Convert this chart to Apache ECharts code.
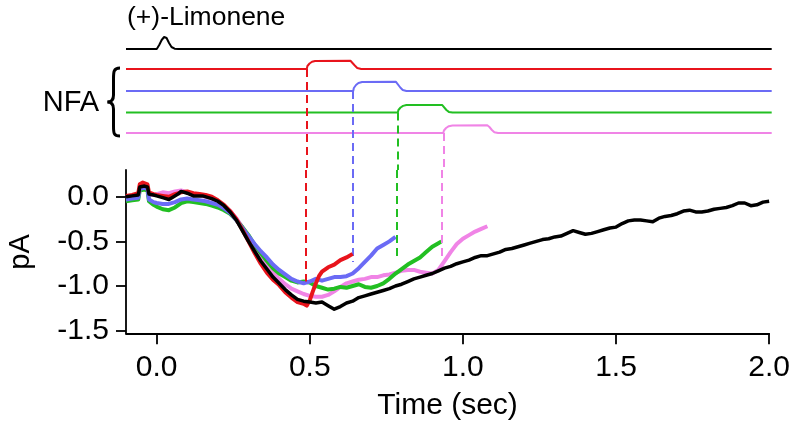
<!DOCTYPE html>
<html><head><meta charset="utf-8">
<script src="https://cdn.jsdelivr.net/npm/echarts@6/dist/echarts.min.js"></script>
<style>html,body{margin:0;padding:0;background:#fff}#c{width:793px;height:426px}</style>
</head><body><div id="c"></div>
<script>
// ---- main current traces (time s, current pA) ----
const blackTrace = [[-0.10,0.00],[-0.08,0.01],[-0.06,0.02],[-0.055,0.11],[-0.04,0.12],[-0.03,0.11],[-0.025,0.03],[-0.01,0.02],[0.00,0.01],[0.02,-0.01],[0.04,-0.03],[0.05,-0.01],[0.07,0.03],[0.08,0.06],[0.10,0.04],[0.12,0.01],[0.15,0.01],[0.18,-0.02],[0.20,-0.05],[0.22,-0.10],[0.24,-0.17],[0.26,-0.26],[0.28,-0.38],[0.30,-0.50],[0.32,-0.61],[0.34,-0.72],[0.36,-0.81],[0.38,-0.90],[0.40,-0.97],[0.42,-1.04],[0.44,-1.10],[0.46,-1.15],[0.48,-1.17],[0.50,-1.18],[0.52,-1.19],[0.54,-1.18],[0.56,-1.22],[0.58,-1.26],[0.60,-1.23],[0.62,-1.19],[0.64,-1.17],[0.66,-1.13],[0.68,-1.11],[0.70,-1.09],[0.72,-1.07],[0.74,-1.05],[0.76,-1.03],[0.78,-1.00],[0.80,-0.98],[0.82,-0.95],[0.84,-0.92],[0.86,-0.90],[0.88,-0.88],[0.90,-0.86],[0.92,-0.83],[0.94,-0.80],[0.96,-0.78],[0.98,-0.75],[1.00,-0.73],[1.02,-0.71],[1.04,-0.68],[1.06,-0.66],[1.08,-0.66],[1.10,-0.64],[1.12,-0.62],[1.14,-0.59],[1.16,-0.58],[1.18,-0.56],[1.20,-0.54],[1.22,-0.52],[1.24,-0.50],[1.26,-0.48],[1.28,-0.47],[1.30,-0.45],[1.32,-0.44],[1.34,-0.41],[1.36,-0.38],[1.38,-0.40],[1.40,-0.42],[1.42,-0.41],[1.44,-0.39],[1.46,-0.37],[1.48,-0.35],[1.50,-0.34],[1.52,-0.30],[1.54,-0.27],[1.56,-0.26],[1.58,-0.26],[1.60,-0.27],[1.62,-0.28],[1.64,-0.24],[1.66,-0.22],[1.68,-0.21],[1.70,-0.19],[1.72,-0.16],[1.74,-0.15],[1.76,-0.17],[1.78,-0.17],[1.80,-0.16],[1.82,-0.14],[1.84,-0.13],[1.86,-0.12],[1.88,-0.10],[1.90,-0.07],[1.92,-0.07],[1.94,-0.10],[1.96,-0.09],[1.98,-0.06],[2.00,-0.05]];
const redTrace = [[-0.10,0.01],[-0.08,0.02],[-0.06,0.04],[-0.055,0.14],[-0.045,0.16],[-0.03,0.14],[-0.025,0.05],[-0.01,0.03],[0.00,0.02],[0.02,0.01],[0.04,0.00],[0.06,0.03],[0.08,0.05],[0.10,0.06],[0.12,0.04],[0.14,0.03],[0.16,0.02],[0.18,0.00],[0.20,-0.04],[0.22,-0.09],[0.24,-0.16],[0.26,-0.25],[0.28,-0.37],[0.30,-0.50],[0.32,-0.63],[0.34,-0.75],[0.36,-0.85],[0.38,-0.93],[0.40,-0.99],[0.42,-1.07],[0.44,-1.13],[0.46,-1.18],[0.48,-1.20],[0.49,-1.22],[0.50,-1.16],[0.51,-1.06],[0.52,-0.97],[0.53,-0.89],[0.54,-0.84],[0.56,-0.79],[0.58,-0.76],[0.60,-0.71],[0.62,-0.68],[0.64,-0.64]];
const blueTrace = [[-0.10,-0.03],[-0.08,-0.02],[-0.06,-0.01],[-0.055,0.09],[-0.04,0.10],[-0.03,0.09],[-0.025,-0.03],[-0.01,-0.06],[0.00,-0.07],[0.02,-0.08],[0.04,-0.08],[0.06,-0.06],[0.08,-0.03],[0.10,-0.02],[0.12,-0.03],[0.14,-0.04],[0.16,-0.05],[0.18,-0.07],[0.20,-0.09],[0.22,-0.13],[0.24,-0.18],[0.26,-0.26],[0.28,-0.35],[0.30,-0.44],[0.32,-0.53],[0.34,-0.61],[0.36,-0.68],[0.38,-0.76],[0.40,-0.82],[0.42,-0.87],[0.44,-0.92],[0.46,-0.95],[0.48,-0.97],[0.50,-0.95],[0.52,-0.92],[0.54,-0.94],[0.56,-0.92],[0.58,-0.90],[0.60,-0.90],[0.62,-0.89],[0.64,-0.86],[0.66,-0.80],[0.68,-0.73],[0.70,-0.66],[0.72,-0.58],[0.74,-0.54],[0.76,-0.50],[0.78,-0.45]];
const greenTrace = [[-0.10,-0.05],[-0.08,-0.04],[-0.06,-0.03],[-0.055,0.07],[-0.04,0.08],[-0.03,0.07],[-0.025,-0.05],[-0.01,-0.09],[0.00,-0.11],[0.02,-0.14],[0.04,-0.15],[0.06,-0.12],[0.08,-0.07],[0.10,-0.05],[0.12,-0.06],[0.14,-0.07],[0.16,-0.08],[0.18,-0.10],[0.20,-0.12],[0.22,-0.15],[0.24,-0.19],[0.26,-0.26],[0.28,-0.34],[0.30,-0.43],[0.32,-0.54],[0.34,-0.63],[0.36,-0.72],[0.38,-0.80],[0.40,-0.86],[0.42,-0.90],[0.44,-0.94],[0.46,-0.96],[0.48,-0.95],[0.50,-0.96],[0.52,-1.00],[0.54,-1.02],[0.56,-1.04],[0.58,-1.03],[0.60,-1.01],[0.62,-1.02],[0.64,-1.00],[0.66,-0.98],[0.68,-1.01],[0.70,-1.02],[0.72,-1.00],[0.74,-0.97],[0.76,-0.92],[0.78,-0.86],[0.80,-0.81],[0.82,-0.76],[0.84,-0.72],[0.86,-0.68],[0.88,-0.62],[0.90,-0.56],[0.92,-0.52],[0.93,-0.50]];
const pinkTrace = [[-0.10,0.00],[-0.08,0.01],[-0.06,0.02],[-0.055,0.11],[-0.04,0.12],[-0.03,0.11],[-0.025,0.02],[-0.01,0.02],[0.00,0.03],[0.02,0.05],[0.04,0.04],[0.06,0.06],[0.08,0.07],[0.10,0.05],[0.12,0.03],[0.14,0.02],[0.16,0.00],[0.18,-0.02],[0.20,-0.05],[0.22,-0.10],[0.24,-0.16],[0.26,-0.24],[0.28,-0.34],[0.30,-0.45],[0.32,-0.56],[0.34,-0.66],[0.36,-0.76],[0.38,-0.85],[0.40,-0.92],[0.42,-0.98],[0.44,-1.03],[0.46,-1.06],[0.48,-1.09],[0.50,-1.11],[0.52,-1.12],[0.54,-1.12],[0.56,-1.10],[0.58,-1.06],[0.60,-1.01],[0.62,-0.97],[0.64,-0.95],[0.66,-0.93],[0.68,-0.92],[0.70,-0.90],[0.72,-0.90],[0.74,-0.88],[0.76,-0.87],[0.78,-0.85],[0.80,-0.83],[0.82,-0.82],[0.84,-0.82],[0.86,-0.84],[0.88,-0.85],[0.90,-0.86],[0.92,-0.82],[0.94,-0.72],[0.96,-0.62],[0.98,-0.53],[1.00,-0.47],[1.02,-0.43],[1.04,-0.39],[1.06,-0.36],[1.08,-0.33]];

// ---- stimulus traces (time s, relative amplitude) ----
const limoneneStim = [[-0.10,0],[0.00,0],[0.008,0.4],[0.016,0.9],[0.024,1.2],[0.032,1.1],[0.040,0.6],[0.048,0.2],[0.058,0.03],[0.07,0],[2.00,0]];
const nfaRedStim = [[-0.10,0],[0.488,0],[0.490,0.3],[0.497,0.55],[0.505,0.72],[0.515,0.8],[0.630,0.82],[0.636,0.7],[0.644,0.35],[0.652,0.1],[0.665,0],[2.00,0]];
const nfaBlueStim = [[-0.10,0],[0.639,0],[0.641,0.3],[0.648,0.6],[0.656,0.8],[0.668,0.9],[0.778,0.92],[0.784,0.75],[0.792,0.35],[0.800,0.1],[0.812,0],[2.00,0]];
const nfaGreenStim = [[-0.10,0],[0.784,0],[0.786,0.25],[0.793,0.5],[0.801,0.66],[0.812,0.75],[0.928,0.76],[0.934,0.6],[0.942,0.25],[0.950,0.06],[0.962,0],[2.00,0]];
const nfaPinkStim = [[-0.10,0],[0.932,0],[0.934,0.25],[0.941,0.5],[0.950,0.68],[0.962,0.75],[1.075,0.77],[1.082,0.6],[1.090,0.3],[1.098,0.08],[1.110,0],[2.00,0]];
// vertical offsets of the stimulus traces (stacking)
const stimOffsets = {black: 12.1, red: 10.1, blue: 7.9, green: 5.75, pink: 3.7};
// NFA onset times and where the dashed guide ends (pA)
const onsetTimes = {red: 0.488, blue: 0.639, green: 0.784, pink: 0.932};
const guideEnds = {red: -0.95, blue: -0.73, green: -0.71, pink: -0.71};

const xTicks = [0, 0.5, 1.0, 1.5, 2.0];
const yTicks = [-1.5, -1.0, -0.5, 0.0];

const COL = {black:'#000000', red:'#e8141c', blue:'#6b6bf5', green:'#22bf22', pink:'#f084e6'};
const FONT = 'Liberation Sans, Arial, sans-serif';

function shift(arr, off){ return arr.map(p => [p[0], p[1] + off]); }

function dashTop(name){
  return {silent:true, symbol:['none','none'], label:{show:false},
    lineStyle:{color:COL[name], type:[8,5], width:2},
    data:[[{coord:[onsetTimes[name], stimOffsets[name]]},{coord:[onsetTimes[name], 0]}]]};
}
function dashMain(name){
  return {silent:true, symbol:['none','none'], label:{show:false},
    lineStyle:{color:COL[name], type:[8,5], width:2},
    data:[[{coord:[onsetTimes[name], 0.3]},{coord:[onsetTimes[name], guideEnds[name]]}]]};
}

const chart = echarts.init(document.getElementById('c'), null, {renderer:'canvas'});
const topSeries = (name, stim, markLine) => {
  const s = {
    type:'line', xAxisIndex:0, yAxisIndex:0, data: shift(stim, stimOffsets[name]),
    symbol:'none', lineStyle:{color:COL[name], width:2}, z:3, silent:true
  };
  if (markLine) s.markLine = markLine;
  return s;
};
const mainSeries = (name, data, width, markLine, z) => {
  const s = {
    type:'line', xAxisIndex:1, yAxisIndex:1, data: data,
    symbol:'none', lineStyle:{color:COL[name], width:width, join:'round'}, z:z, silent:true
  };
  if (markLine) s.markLine = markLine;
  return s;
};

const braceStyle = {stroke:'#000', lineWidth:3, fill:'none'};

chart.setOption({
  animation:false,
  backgroundColor:'#ffffff',
  textStyle:{fontFamily:FONT},
  grid:[
    {left:126, right:21.3, top:30, height:140},
    {left:126, right:21.3, top:170, bottom:92.7}
  ],
  xAxis:[
    {gridIndex:0, type:'value', min:-0.1, max:2.0, show:false},
    {gridIndex:1, type:'value', min:-0.1, max:2.0,
     axisLine:{show:true, onZero:false, lineStyle:{color:'#000', width:1.8}},
     axisTick:{show:true, customValues:xTicks, length:11, lineStyle:{color:'#000', width:1.8}},
     axisLabel:{customValues:xTicks, formatter:v=>v.toFixed(1), fontSize:30, color:'#000', margin:19, fontFamily:FONT},
     splitLine:{show:false},
     name:'Time (sec)', nameLocation:'middle', nameGap:57,
     nameTextStyle:{fontSize:30, color:'#000', fontFamily:FONT}}
  ],
  yAxis:[
    {gridIndex:0, type:'value', min:0, max:14, show:false},
    {gridIndex:1, type:'value', min:-1.53, max:0.3,
     axisLine:{show:true, onZero:false, lineStyle:{color:'#000', width:1.8}},
     axisTick:{show:true, customValues:yTicks, length:10, lineStyle:{color:'#000', width:1.8}},
     axisLabel:{customValues:yTicks, formatter:v=>v.toFixed(1), fontSize:30, color:'#000', margin:17, fontFamily:FONT},
     splitLine:{show:false}}
  ],
  graphic:{elements:[
    {type:'text', x:127, y:18, style:{text:'(+)-Limonene', fontSize:26.5, fill:'#000', fontFamily:FONT, textVerticalAlign:'middle', verticalAlign:'middle'}},
    {type:'text', x:71, y:103, style:{text:'NFA', fontSize:29, fill:'#000', fontFamily:FONT, align:'center', textAlign:'center', verticalAlign:'middle', textVerticalAlign:'middle'}},
    {type:'bezierCurve', shape:{x1:120, y1:68, cpx1:113.5, cpy1:68, cpx2:113.5, cpy2:72, x2:113.5, y2:79}, style:braceStyle},
    {type:'line', shape:{x1:113.5, y1:79, x2:113.5, y2:95}, style:braceStyle},
    {type:'bezierCurve', shape:{x1:113.5, y1:95, cpx1:113.5, cpy1:100, cpx2:111.5, cpy2:102, x2:107.5, y2:102}, style:braceStyle},
    {type:'bezierCurve', shape:{x1:107.5, y1:102, cpx1:111.5, cpy1:102, cpx2:113.5, cpy2:104, x2:113.5, y2:109}, style:braceStyle},
    {type:'line', shape:{x1:113.5, y1:109, x2:113.5, y2:126}, style:braceStyle},
    {type:'bezierCurve', shape:{x1:113.5, y1:126, cpx1:113.5, cpy1:133, cpx2:113.5, cpy2:136, x2:120, y2:136}, style:braceStyle},
    {type:'text', x:21, y:252, rotation:Math.PI/2, style:{text:'pA', fontSize:29, fill:'#000', fontFamily:FONT, align:'center', textAlign:'center', verticalAlign:'middle', textVerticalAlign:'middle'}}
  ]},
  series:[
    topSeries('black', limoneneStim, null),
    topSeries('red', nfaRedStim, dashTop('red')),
    topSeries('blue', nfaBlueStim, dashTop('blue')),
    topSeries('green', nfaGreenStim, dashTop('green')),
    topSeries('pink', nfaPinkStim, dashTop('pink')),
    mainSeries('pink', pinkTrace, 4, dashMain('pink'), 2),
    mainSeries('green', greenTrace, 4, dashMain('green'), 3),
    mainSeries('blue', blueTrace, 4, dashMain('blue'), 4),
    mainSeries('red', redTrace, 4, dashMain('red'), 5),
    mainSeries('black', blackTrace, 3.5, null, 6)
  ]
});
</script>
</body></html>
